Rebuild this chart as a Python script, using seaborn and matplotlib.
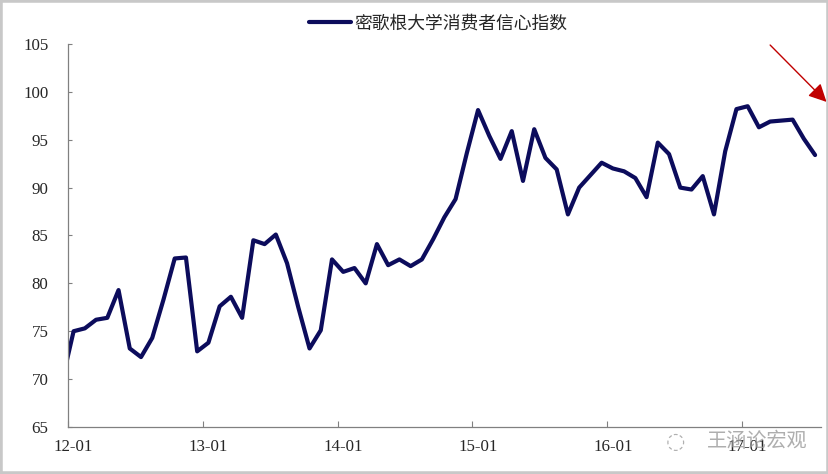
"""
plot.py — Indice de confiance des consommateurs (Université du Michigan).

Série mensuelle déc. 2011 → juil. 2017, tracée avec seaborn puis
sauvegardée en PNG (out.png).
"""

import pandas as pd
import matplotlib.pyplot as plt
import seaborn as sns
from matplotlib.patches import Rectangle

# mois 0 = 2012-01 ; -1 = 2011-12 (coupé par l'axe)
START_MONTH = -1
SENTIMENT = [
    69.9,
    75.0, 75.3, 76.2, 76.4, 79.3, 73.2, 72.3, 74.3, 78.3, 82.6, 82.7, 72.9,
    73.8, 77.6, 78.6, 76.4, 84.5, 84.1, 85.1, 82.1, 77.5, 73.2, 75.1, 82.5,
    81.2, 81.6, 80.0, 84.1, 81.9, 82.5, 81.8, 82.5, 84.6, 86.9, 88.8, 93.6,
    98.1, 95.4, 93.0, 95.9, 90.7, 96.1, 93.1, 91.9, 87.2, 90.0, 91.3, 92.6,
    92.0, 91.7, 91.0, 89.0, 94.7, 93.5, 90.0, 89.8, 91.2, 87.2, 93.8, 98.2,
    98.5, 96.3, 96.9, 97.0, 97.1, 95.1, 93.4,
]
TICK_LABELS = ["12-01", "13-01", "14-01", "15-01", "16-01", "17-01"]
SERIES_NAME = "密歌根大学消费者信心指数"
WATERMARK = "王涵论宏观"

LINE_COLOR = "#0c0c5c"
AXIS_COLOR = "#808080"


def make_chart() -> None:
    sns.set_theme(style="white")
    plt.rcParams["font.family"] = ["Liberation Serif", "Noto Sans CJK SC"]

    # point au milieu du mois
    df = pd.DataFrame({
        "month": [START_MONTH + i + 0.5 for i in range(len(SENTIMENT))],
        "value": SENTIMENT,
    })

    fig = plt.figure(figsize=(8.29, 4.74), dpi=100)
    ax = fig.add_axes([0.082, 0.0992, 0.908, 0.808])

    sns.lineplot(data=df, x="month", y="value", ax=ax, color=LINE_COLOR,
                 linewidth=3.0, label=SERIES_NAME, clip_on=True)

    ax.set_xlim(0, 67)
    ax.set_ylim(65, 105)
    ax.set(xlabel="", ylabel="")

    years = [12 * k for k in range(len(TICK_LABELS))]
    ax.set_xticks(years)
    ax.set_xticklabels([])
    ax.set_xticks([y + 0.5 for y in years], minor=True)
    ax.set_xticklabels(TICK_LABELS, minor=True)
    ax.set_yticks(range(65, 106, 5))

    ax.tick_params(axis="x", which="major", direction="in", length=4,
                   width=0.8, color=AXIS_COLOR, bottom=True)
    ax.tick_params(axis="x", which="minor", length=0, pad=9, labelsize=12.2,
                   bottom=True)
    ax.tick_params(axis="y", direction="in", length=3, width=0.8,
                   color=AXIS_COLOR, left=True, pad=14, labelsize=12.2)

    for side in ("top", "right"):
        ax.spines[side].set_visible(False)
    for side in ("left", "bottom"):
        ax.spines[side].set_color(AXIS_COLOR)
        ax.spines[side].set_linewidth(0.9)

    leg = ax.legend(loc="center", bbox_to_anchor=(0.528, 0.951),
                    bbox_transform=fig.transFigure, frameon=False,
                    handlelength=2.4, handletextpad=0.15,
                    prop={"family": ["Noto Sans CJK SC"], "size": 12.8})
    for h in leg.get_lines():
        h.set_linewidth(3.0)

    # flèche rouge en haut à droite
    fig.add_artist(plt.Annotation(
        "", xy=(0.997, 0.785), xytext=(0.929, 0.905),
        xycoords="figure fraction", textcoords="figure fraction",
        arrowprops=dict(arrowstyle="-|>,head_length=0.9,head_width=0.45",
                        color="#c00000", lw=1.0, shrinkA=0, shrinkB=0)))

    # filigrane
    fig.text(0.913, 0.068, WATERMARK, ha="center", va="center",
             fontsize=14.5, color="#9a9a9a", alpha=0.8,
             family=["Noto Sans CJK SC"])
    fig.text(0.815, 0.068, "◌", ha="center", va="center", fontsize=16,
             color="#b0b0b0", family=["DejaVu Sans"])

    # cadre gris de l'image
    fig.add_artist(Rectangle((0, 0), 1, 1, transform=fig.transFigure,
                             fill=False, edgecolor="#c8c8c8", linewidth=4))

    fig.savefig("out.png", dpi=100)
    plt.close(fig)


if __name__ == "__main__":
    make_chart()
